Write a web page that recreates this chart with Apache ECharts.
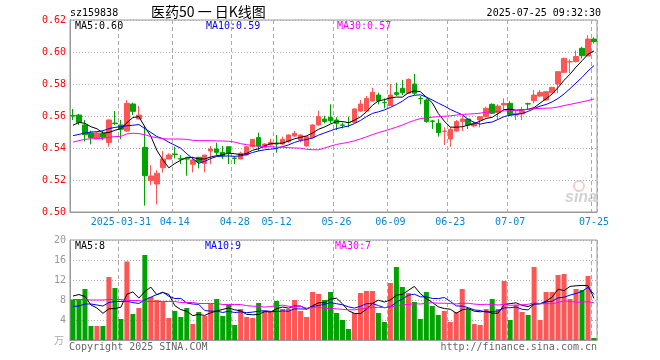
<!DOCTYPE html>
<html><head><meta charset="utf-8">
<script src="https://cdn.jsdelivr.net/npm/echarts@6/dist/echarts.min.js"></script>
<style>html,body{margin:0;padding:0;background:#fff}#c{width:660px;height:360px}</style>
</head><body><div id="c"></div>
<script>
const dates = ['2025-03-19','2025-03-20','2025-03-21','2025-03-24','2025-03-25','2025-03-26','2025-03-27','2025-03-28','2025-03-31','2025-04-01','2025-04-02','2025-04-03','2025-04-07','2025-04-08','2025-04-09','2025-04-10','2025-04-11','2025-04-14','2025-04-15','2025-04-16','2025-04-17','2025-04-18','2025-04-21','2025-04-22','2025-04-23','2025-04-24','2025-04-25','2025-04-28','2025-04-29','2025-04-30','2025-05-06','2025-05-07','2025-05-08','2025-05-09','2025-05-12','2025-05-13','2025-05-14','2025-05-15','2025-05-16','2025-05-19','2025-05-20','2025-05-21','2025-05-22','2025-05-23','2025-05-26','2025-05-27','2025-05-28','2025-05-29','2025-05-30','2025-06-03','2025-06-04','2025-06-05','2025-06-06','2025-06-09','2025-06-10','2025-06-11','2025-06-12','2025-06-13','2025-06-16','2025-06-17','2025-06-18','2025-06-19','2025-06-20','2025-06-23','2025-06-24','2025-06-25','2025-06-26','2025-06-27','2025-06-30','2025-07-01','2025-07-02','2025-07-03','2025-07-04','2025-07-07','2025-07-08','2025-07-09','2025-07-10','2025-07-11','2025-07-14','2025-07-15','2025-07-16','2025-07-17','2025-07-18','2025-07-21','2025-07-22','2025-07-23','2025-07-24','2025-07-25'];

const opens = [0.5602,0.5606,0.5544,0.5494,0.5458,0.5492,0.5435,0.5556,0.5544,0.5506,
0.5675,0.5581,0.5404,0.5196,0.5175,0.5277,0.5331,0.5362,0.5333,0.5333,
0.5298,0.5342,0.5304,0.5381,0.5394,0.5373,0.5408,0.5337,0.5331,0.5356,
0.5408,0.5465,0.5404,0.5419,0.5427,0.5425,0.5440,0.5475,0.5450,0.5413,
0.5465,0.5544,0.5581,0.5592,0.5575,0.5544,0.5560,0.5560,0.5631,0.5631,
0.5694,0.5731,0.5685,0.5665,0.5746,0.5773,0.5742,0.5800,0.5710,0.5700,
0.5569,0.5554,0.5504,0.5456,0.5506,0.5565,0.5581,0.5538,0.5575,0.5596,
0.5673,0.5621,0.5669,0.5679,0.5606,0.5613,0.5677,0.5696,0.5725,0.5700,
0.5746,0.5800,0.5873,0.5938,0.5940,0.6023,0.5975,0.6081];

const closes = [0.5600,0.5560,0.5483,0.5465,0.5494,0.5467,0.5575,0.5552,0.5517,0.5679,
0.5629,0.5606,0.5227,0.5225,0.5242,0.5331,0.5356,0.5360,0.5331,0.5331,
0.5325,0.5313,0.5356,0.5394,0.5373,0.5352,0.5367,0.5335,0.5367,0.5408,
0.5454,0.5412,0.5425,0.5435,0.5425,0.5454,0.5481,0.5492,0.5481,0.5471,
0.5544,0.5596,0.5565,0.5571,0.5554,0.5542,0.5558,0.5644,0.5675,0.5710,
0.5748,0.5694,0.5683,0.5731,0.5735,0.5746,0.5829,0.5742,0.5708,0.5565,
0.5567,0.5496,0.5506,0.5517,0.5565,0.5581,0.5544,0.5554,0.5596,0.5648,
0.5617,0.5662,0.5679,0.5606,0.5617,0.5633,0.5675,0.5731,0.5748,0.5752,
0.5779,0.5877,0.5960,0.5940,0.5972,0.5977,0.6081,0.6065];

const lows = [0.5575,0.5544,0.5440,0.5423,0.5456,0.5450,0.5408,0.5544,0.5456,0.5502,
0.5606,0.5581,0.5040,0.5169,0.5048,0.5246,0.5329,0.5335,0.5300,0.5227,
0.5248,0.5273,0.5248,0.5300,0.5356,0.5331,0.5300,0.5300,0.5331,0.5352,
0.5404,0.5381,0.5398,0.5413,0.5371,0.5419,0.5433,0.5467,0.5435,0.5408,
0.5460,0.5540,0.5554,0.5554,0.5512,0.5523,0.5529,0.5554,0.5627,0.5627,
0.5690,0.5673,0.5648,0.5663,0.5725,0.5731,0.5738,0.5731,0.5673,0.5558,
0.5519,0.5471,0.5419,0.5408,0.5502,0.5506,0.5519,0.5529,0.5529,0.5592,
0.5613,0.5581,0.5638,0.5600,0.5575,0.5575,0.5638,0.5679,0.5717,0.5696,
0.5742,0.5742,0.5871,0.5867,0.5935,0.5960,0.5975,0.6054];

const highs = [0.5644,0.5613,0.5575,0.5508,0.5500,0.5506,0.5579,0.5631,0.5575,0.5700,
0.5683,0.5662,0.5540,0.5294,0.5262,0.5381,0.5367,0.5408,0.5356,0.5340,
0.5346,0.5342,0.5356,0.5412,0.5433,0.5413,0.5408,0.5346,0.5377,0.5408,
0.5456,0.5496,0.5429,0.5458,0.5481,0.5471,0.5485,0.5508,0.5485,0.5475,
0.5548,0.5633,0.5602,0.5673,0.5592,0.5560,0.5596,0.5648,0.5700,0.5725,
0.5777,0.5746,0.5710,0.5800,0.5808,0.5825,0.5835,0.5863,0.5725,0.5710,
0.5575,0.5581,0.5529,0.5529,0.5575,0.5600,0.5581,0.5565,0.5600,0.5658,
0.5679,0.5673,0.5710,0.5694,0.5638,0.5658,0.5683,0.5763,0.5763,0.5752,
0.5783,0.5881,0.5965,0.5954,0.6010,0.6033,0.6106,0.6092];

// volume (万)
const volumes = [8.1,8.1,10.2,2.8,2.8,2.8,12.6,10.4,4.2,15.7,
5.2,6.4,17.0,8.6,8.0,7.6,4.4,5.8,4.6,6.4,
3.2,5.6,4.8,7.2,8.2,4.8,7.0,3.0,6.2,4.6,
4.4,7.4,5.8,5.8,7.8,6.2,6.2,8.0,5.8,4.6,
9.6,9.2,8.0,9.6,5.4,4.0,2.2,5.4,9.4,9.8,
9.8,5.4,3.6,11.4,14.6,10.6,9.4,7.6,4.2,9.6,
6.8,5.0,5.8,3.6,5.6,10.2,6.2,3.2,3.0,6.2,
8.2,6.2,11.8,4.0,7.0,5.6,5.0,14.6,4.0,9.6,
9.6,13.0,13.2,8.2,10.2,10.0,12.8,0.4];

// moving-average values before enough in-window history exists
const ma5Lead = [0.5542,0.5560,0.5554,0.5533];
const ma10Lead = [0.5477,0.5485,0.5494,0.5500,0.5502,0.5508,0.5521,0.5529,0.5533];
const ma30Lead = [0.5437,0.5446,0.5454,0.5458,0.5458,0.5460,0.5467,0.5471,0.5473,0.5488,0.5492,0.5490,0.5483,0.5471,0.5465,0.5458,0.5456,0.5456,0.5456,0.5454,0.5448,0.5446,0.5446,0.5446,0.5444,0.5444,0.5442,0.5437,0.5427];
const vma5Lead = [8.8,9.1,8.7,7.0];
const vma10Lead = [6.7,6.8,7.2,7.2,7.0,6.8,7.5,7.7,7.7];
const vma30Lead = [8.1,8.1,8.1,8.0,8.0,8.0,8.1,8.1,8.1,7.9,7.9,7.9,7.7,7.7,7.7,7.7,7.7,7.7,7.5,7.5,7.5,7.3,7.3,7.3,7.3,7.1,7.1,7.1,7.1];

const labelDates = ['2025-03-31','2025-04-14','2025-04-28','2025-05-12','2025-05-26','2025-06-09','2025-06-23','2025-07-07','2025-07-25'];
const priceTicks = [0.50,0.52,0.54,0.56,0.58,0.60,0.62];
const volTicks = [0,4,8,12,16,20];

const RED = '#FF5555', GREEN = '#00A300';
const MONO = '"DejaVu Sans Mono", "Liberation Mono", monospace';

function movingAvg(vals, n, lead) {
  return vals.map((v, i) => {
    if (i < n - 1) return lead[i];
    let s = 0;
    for (let k = i - n + 1; k <= i; k++) s += vals[k];
    return +(s / n).toFixed(5);
  });
}

const kData = dates.map((d, i) => [opens[i], closes[i], lows[i], highs[i]]);
const volData = volumes.map((v, i) => ({
  value: v,
  itemStyle: { color: closes[i] > opens[i] ? RED : GREEN }
}));

const isLabel = (idx, val) => labelDates.indexOf(dates[idx]) >= 0;
const xSplit = { show: true, interval: isLabel, lineStyle: { color: '#aaa', type: [4, 3], width: 1 } };
const ySplit = { show: true, lineStyle: { color: '#aaa', type: [1, 2], width: 1 } };

function lineSeries(data, color, xi, yi) {
  return { type: 'line', xAxisIndex: xi, yAxisIndex: yi, data: data, symbol: 'none',
    lineStyle: { width: 1, color: color }, itemStyle: { color: color }, z: 5, silent: true };
}

const chart = echarts.init(document.getElementById('c'), null, { renderer: 'canvas' });
chart.setOption({
  animation: false,
  backgroundColor: '#fff',
  grid: [
    { left: 70, top: 20, width: 527, height: 192, show: true, borderColor: '#999', borderWidth: 1 },
    { left: 70, top: 240, width: 527, height: 100, show: true, borderColor: '#999', borderWidth: 1 }
  ],
  xAxis: [
    { type: 'category', gridIndex: 0, data: dates, boundaryGap: true,
      axisLine: { lineStyle: { color: '#999' } }, axisTick: { show: false },
      axisLabel: { interval: isLabel, color: '#0A87D0', fontFamily: MONO, fontSize: 10, margin: 5,
        formatter: v => v === '2025-03-31' ? v : v.slice(5) },
      splitLine: xSplit },
    { type: 'category', gridIndex: 1, data: dates, boundaryGap: true,
      axisLine: { lineStyle: { color: '#999' } }, axisTick: { show: false },
      axisLabel: { show: false }, splitLine: xSplit }
  ],
  yAxis: [
    { type: 'value', gridIndex: 0, min: priceTicks[0], max: priceTicks[priceTicks.length - 1], interval: 0.02,
      axisLine: { show: true, lineStyle: { color: '#999' } }, axisTick: { show: false },
      axisLabel: { color: '#FF0000', fontFamily: MONO, fontSize: 10, margin: 4, formatter: v => v.toFixed(2) },
      splitLine: ySplit },
    { type: 'value', gridIndex: 1, min: volTicks[0], max: volTicks[volTicks.length - 1], interval: 4,
      axisLine: { show: true, lineStyle: { color: '#999' } }, axisTick: { show: false },
      axisLabel: { color: '#999', fontFamily: MONO, fontSize: 10, margin: 4, formatter: v => v === 0 ? '' : String(v) },
      splitLine: ySplit }
  ],
  series: [
    { type: 'candlestick', xAxisIndex: 0, yAxisIndex: 0, data: kData, barWidth: 5,
      itemStyle: { color: RED, color0: GREEN, borderColor: RED, borderColor0: GREEN, borderWidth: 1 } },
    lineSeries(movingAvg(closes, 5, ma5Lead), '#000000', 0, 0),
    lineSeries(movingAvg(closes, 10, ma10Lead), '#0000FF', 0, 0),
    lineSeries(movingAvg(closes, 30, ma30Lead), '#FF00FF', 0, 0),
    { type: 'bar', xAxisIndex: 1, yAxisIndex: 1, data: volData, barWidth: 5 },
    lineSeries(movingAvg(volumes, 5, vma5Lead), '#000000', 1, 1),
    lineSeries(movingAvg(volumes, 10, vma10Lead), '#0000FF', 1, 1),
    lineSeries(movingAvg(volumes, 30, vma30Lead), '#FF00FF', 1, 1)
  ],
  graphic: [
    { type: 'text', x: 70, y: 13, style: { text: 'sz159838', font: '10px ' + MONO, fill: '#000', verticalAlign: 'middle' } },
    { type: 'text', x: 151, y: 12, style: { text: '医药50 一 日K线图', font: '14px "Noto Sans CJK SC"', fill: '#000', verticalAlign: 'middle' } },
    { type: 'text', x: 601, y: 13, style: { text: '2025-07-25 09:32:30', font: '10px ' + MONO, fill: '#000', align: 'right', verticalAlign: 'middle' } },
    { type: 'text', x: 75, y: 26, z: 10, style: { text: 'MA5:0.60', font: '10px ' + MONO, fill: '#000', verticalAlign: 'middle' } },
    { type: 'text', x: 206, y: 26, z: 10, style: { text: 'MA10:0.59', font: '10px ' + MONO, fill: '#0000FF', verticalAlign: 'middle' } },
    { type: 'text', x: 337, y: 26, z: 10, style: { text: 'MA30:0.57', font: '10px ' + MONO, fill: '#FF00FF', verticalAlign: 'middle' } },
    { type: 'text', x: 75, y: 246, z: 10, style: { text: 'MA5:8', font: '10px ' + MONO, fill: '#000', verticalAlign: 'middle' } },
    { type: 'text', x: 205, y: 246, z: 10, style: { text: 'MA10:9', font: '10px ' + MONO, fill: '#0000FF', verticalAlign: 'middle' } },
    { type: 'text', x: 335, y: 246, z: 10, style: { text: 'MA30:7', font: '10px ' + MONO, fill: '#FF00FF', verticalAlign: 'middle' } },
    { type: 'text', x: 69, y: 347, style: { text: 'Copyright 2025 SINA.COM', font: '10px ' + MONO, fill: '#666', verticalAlign: 'middle' } },
    { type: 'text', x: 597, y: 347, style: { text: 'http://finance.sina.com.cn', font: '10px ' + MONO, fill: '#666', align: 'right', verticalAlign: 'middle' } },
    { type: 'text', x: 64, y: 340, style: { text: '万', font: '10px "Noto Sans CJK SC"', fill: '#aaa', align: 'right', verticalAlign: 'middle' } },
    { type: 'circle', shape: { cx: 579, cy: 186, r: 5 }, style: { fill: 'none', stroke: 'rgba(230,110,110,0.35)', lineWidth: 2 } },
    { type: 'text', x: 565, y: 198, style: { text: 'sina', font: 'italic bold 16px "Liberation Sans"', fill: '#d2d2d2', verticalAlign: 'middle' } }
  ]
});
</script>
</body></html>
